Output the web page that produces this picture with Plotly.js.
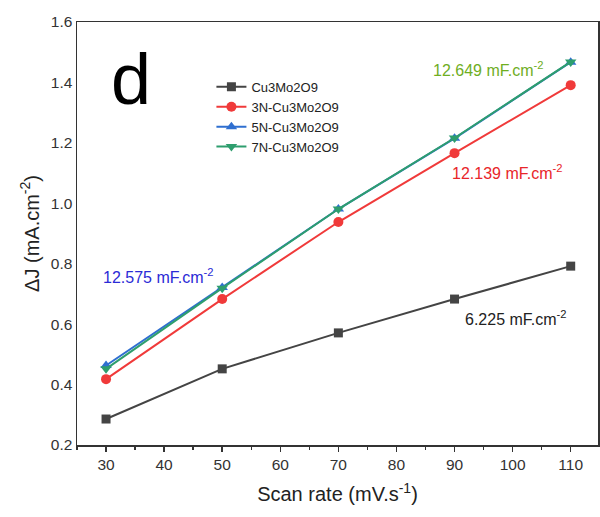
<!DOCTYPE html>
<html>
<head>
<meta charset="utf-8">
<script src="https://cdn.plot.ly/plotly-3.0.1.min.js"></script>
<style>html,body{margin:0;padding:0;background:#fff;}#chart{width:600px;height:517px;}</style>
</head>
<body>
<div id="chart"></div>
<script>
var scanRate = [30, 50, 70, 90, 110];
var cu3mo2o9 = [0.286, 0.452, 0.571, 0.683, 0.792];
var n3 = [0.418, 0.683, 0.938, 1.166, 1.391];
var n5 = [0.463, 0.721, 0.981, 1.215, 1.467];
var n7 = [0.452, 0.719, 0.981, 1.216, 1.468];
var seriesNames = ['Cu3Mo2O9', '3N-Cu3Mo2O9', '5N-Cu3Mo2O9', '7N-Cu3Mo2O9'];
var xTicks = [30, 40, 50, 60, 70, 80, 90, 100, 110];
var yTicks = [0.2, 0.4, 0.6, 0.8, 1.0, 1.2, 1.4, 1.6];
var yTickText = ['0.2', '0.4', '0.6', '0.8', '1.0', '1.2', '1.4', '1.6'];

var font = 'Liberation Sans, Arial, sans-serif';
function tr(y, name, color, symbol, size) {
  return {x: scanRate, y: y, name: name, type: 'scatter', mode: 'lines+markers',
    line: {color: color, width: 2}, marker: {color: color, symbol: symbol, size: size}};
}
var data = [
  tr(cu3mo2o9, seriesNames[0], '#444444', 'square', 9),
  tr(n3, seriesNames[1], '#f03a3a', 'circle', 10),
  tr(n5, seriesNames[2], '#2f6fd0', 'triangle-up', 10),
  tr(n7, seriesNames[3], '#2e9e6e', 'triangle-down', 10)
];
var layout = {
  width: 600, height: 517,
  margin: {l: 77, r: 2, t: 22, b: 72},
  paper_bgcolor: '#fff', plot_bgcolor: '#fff',
  font: {family: font, color: '#333'},
  showlegend: true,
  legend: {x: 0.258, y: 0.882, xanchor: 'left', yanchor: 'top', bgcolor: 'rgba(0,0,0,0)',
    font: {size: 13, family: font, color: '#222'}, tracegroupgap: 0},
  xaxis: {range: [25, 114.7], tickvals: xTicks, ticks: 'outside', ticklen: 5, tickwidth: 1.5,
    tickcolor: '#333', showline: true, linecolor: '#333', linewidth: 1.5, mirror: true,
    showgrid: false, zeroline: false, tickfont: {size: 15.5, family: font, color: '#333'},
    minor: {dtick: 5, tick0: 25, ticks: 'outside', ticklen: 3, tickcolor: '#333'},
    title: {text: 'Scan rate (mV.s<sup>-1</sup>)', font: {size: 20, family: font, color: '#222'}, standoff: 15}},
  yaxis: {range: [0.2, 1.6], tickvals: yTicks, ticktext: yTickText, ticks: '',
    showline: true, linecolor: '#333', linewidth: 1.5, mirror: true,
    showgrid: false, zeroline: false, tickfont: {size: 15.5, family: font, color: '#333'},
    title: {text: '\u0394J (mA.cm<sup>-2</sup>)', font: {size: 20, family: font, color: '#222'}, standoff: 6}},
  annotations: [
    {xref: 'paper', yref: 'paper', x: 0.062, y: 0.865, xanchor: 'left', yanchor: 'middle', text: 'd', showarrow: false,
      font: {size: 72, family: font, color: '#000'}},
    {xref: 'x', yref: 'y', x: 85.9, y: 1.446, xanchor: 'left', yanchor: 'middle', text: '12.649 mF.cm<sup>-2</sup>', showarrow: false,
      font: {size: 16, family: font, color: '#6fae1f'}},
    {xref: 'x', yref: 'y', x: 89.2, y: 1.105, xanchor: 'left', yanchor: 'middle', text: '12.139 mF.cm<sup>-2</sup>', showarrow: false,
      font: {size: 16, family: font, color: '#e8262a'}},
    {xref: 'x', yref: 'y', x: 29.1, y: 0.761, xanchor: 'left', yanchor: 'middle', text: '12.575 mF.cm<sup>-2</sup>', showarrow: false,
      font: {size: 16, family: font, color: '#2b2bd6'}},
    {xref: 'x', yref: 'y', x: 91.4, y: 0.619, xanchor: 'left', yanchor: 'middle', text: '6.225 mF.cm<sup>-2</sup>', showarrow: false,
      font: {size: 16, family: font, color: '#222'}}
  ]
};
Plotly.newPlot('chart', data, layout, {displayModeBar: false, staticPlot: true});
</script>
</body>
</html>
